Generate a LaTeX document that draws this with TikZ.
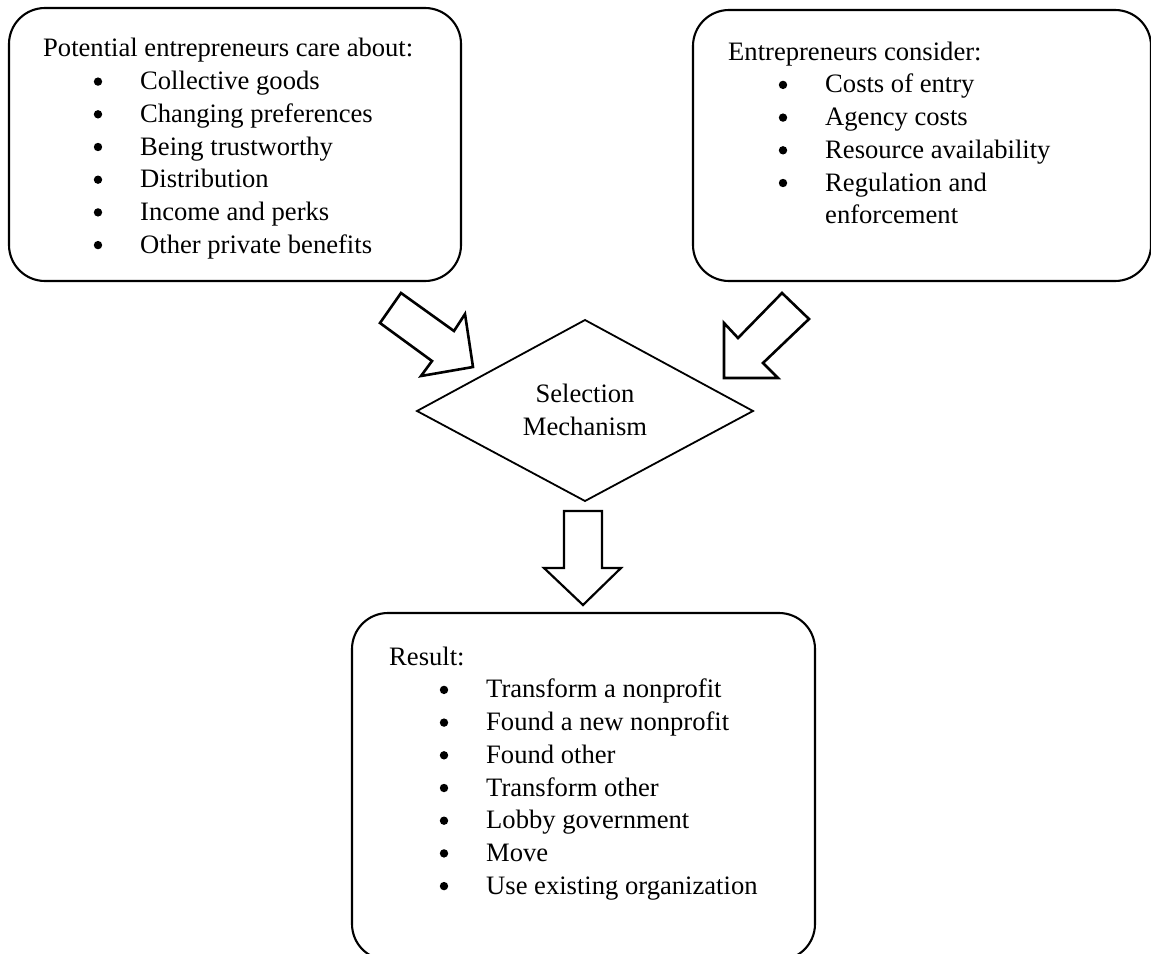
\documentclass[tikz,border=0pt]{standalone}
\usepackage{fontspec}
\setmainfont{Liberation Serif}
\begin{document}
\begin{tikzpicture}[x=1pt,y=-1pt,
  box/.style={draw=black, line width=2.1pt, rounded corners=36pt},
  blockarrow/.style={draw=black, line width=2.6pt, line join=miter, fill=white},
  txt/.style={inner sep=0pt, font=\fontsize{26.6}{32.7}\selectfont},
  listtxt/.style={txt, anchor=north west, align=left},
  bulletdot/.style={fill=black}]
\newcommand{\bul}{\hspace*{97pt}}
\newcommand{\firststrut}{\rule{0pt}{20pt}}
\useasboundingbox (0,0) rectangle (1151,953);
% boxes
\draw[box] (9,8) rectangle (461,281);
\draw[box] (693,10) rectangle (1151,281);
\draw[box] (352,613) rectangle (815,960);
% left box text
\node[listtxt] (lt) at (43,36.7) {\firststrut Potential entrepreneurs care about:\\
  \bul Collective goods\\
  \bul Changing preferences\\
  \bul Being trustworthy\\
  \bul Distribution\\
  \bul Income and perks\\
  \bul Other private benefits};
\foreach \k in {1,...,6} \fill[bulletdot] (98,56.7+32.7*\k-7.8) circle (4.2);
% right box text
\node[listtxt] (rt) at (728,40) {\firststrut Entrepreneurs consider:\\
  \bul Costs of entry\\
  \bul Agency costs\\
  \bul Resource availability\\
  \bul Regulation and\\
  \bul enforcement};
\foreach \k in {1,...,4} \fill[bulletdot] (783,60+32.7*\k-7.8) circle (4.2);
% bottom box text
\node[listtxt] (bt) at (389,645) {\firststrut Result:\\
  \bul Transform a nonprofit\\
  \bul Found a new nonprofit\\
  \bul Found other\\
  \bul Transform other\\
  \bul Lobby government\\
  \bul Move\\
  \bul Use existing organization};
\foreach \k in {1,...,7} \fill[bulletdot] (444,665+32.7*\k-7.8) circle (4.2);
% diamond
\coordinate (dt) at (585,320);
\coordinate (dr) at (753,411);
\coordinate (db) at (585,501);
\coordinate (dl) at (417,411);
\draw[line width=1.8pt, line join=miter] (dt) -- (dr) -- (db) -- (dl) -- cycle;
\node[txt, anchor=north, align=center] (sel) at (585,382.5) {\firststrut Selection\\Mechanism};
% block arrows
\draw[blockarrow] (401,293) -- (454,331) -- (465,314) -- (473,367) -- (421,376) -- (432,361) -- (380,323) -- cycle;
\draw[blockarrow] (782,293) -- (809,319) -- (763,363) -- (778,378) -- (724,378) -- (724,323) -- (738,338) -- cycle;
\draw[blockarrow, line width=2.2pt] (564,511) -- (602,511) -- (602,568) -- (621,568) -- (583,605) -- (544,568) -- (564,568) -- cycle;
\end{tikzpicture}
\end{document}
